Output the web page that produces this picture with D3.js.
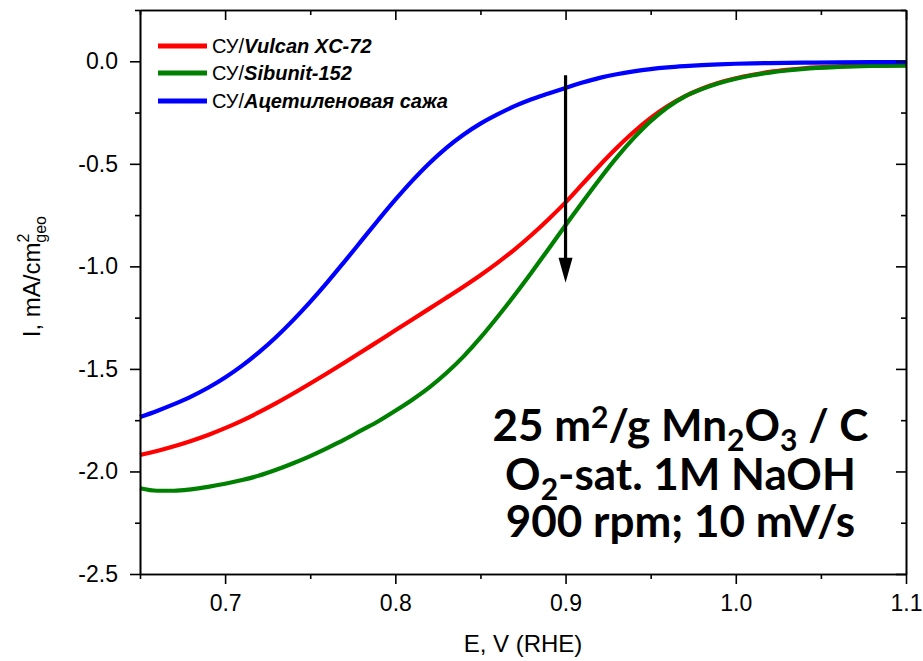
<!DOCTYPE html>
<html>
<head>
<meta charset="utf-8">
<script src="https://cdn.jsdelivr.net/npm/d3@7"></script>
<style>
  body { margin: 0; background: #fff; }
  svg { display: block; }
  .axis text { font-family: "Liberation Sans", Arial, sans-serif; font-size: 23px; fill: #000; }
  .axis path, .axis line { stroke: #000; stroke-width: 1.6px; }
</style>
</head>
<body>
<div id="chart"></div>
<script>
// potential, V vs RHE
const potential = [0.65, 0.66, 0.67, 0.68, 0.69, 0.70, 0.71, 0.72, 0.73, 0.74,
  0.75, 0.76, 0.77, 0.78, 0.79, 0.80, 0.81, 0.82, 0.83, 0.84,
  0.85, 0.86, 0.87, 0.88, 0.89, 0.90, 0.91, 0.92, 0.93, 0.94,
  0.95, 0.96, 0.97, 0.98, 0.99, 1.00, 1.01, 1.02, 1.03, 1.04,
  1.06, 1.08, 1.10];

// current, mA/cm2 geo
const vulcan = [-1.920, -1.900, -1.877, -1.851, -1.822, -1.789, -1.752, -1.711, -1.667, -1.620,
  -1.571, -1.521, -1.470, -1.418, -1.365, -1.312, -1.259, -1.206, -1.153, -1.099,
  -1.043, -0.983, -0.918, -0.847, -0.770, -0.688, -0.598, -0.508, -0.423, -0.345,
  -0.276, -0.218, -0.171, -0.134, -0.105, -0.083, -0.066, -0.052, -0.042, -0.034,
  -0.025, -0.021, -0.019];
const sibunit = [-2.082, -2.094, -2.094, -2.087, -2.075, -2.060, -2.042, -2.020, -1.992, -1.960,
  -1.925, -1.886, -1.845, -1.800, -1.755, -1.704, -1.650, -1.590, -1.520, -1.440,
  -1.348, -1.247, -1.141, -1.030, -0.915, -0.800, -0.686, -0.575, -0.470, -0.375,
  -0.292, -0.224, -0.172, -0.136, -0.107, -0.085, -0.068, -0.055, -0.045, -0.037,
  -0.028, -0.023, -0.021];
const acetylene = [-1.735, -1.705, -1.672, -1.635, -1.592, -1.542, -1.484, -1.418, -1.344, -1.262,
  -1.173, -1.078, -0.978, -0.876, -0.774, -0.675, -0.582, -0.497, -0.422, -0.358,
  -0.304, -0.259, -0.219, -0.185, -0.157, -0.130, -0.104, -0.081, -0.063, -0.049,
  -0.038, -0.030, -0.024, -0.019, -0.015, -0.012, -0.010, -0.009, -0.008, -0.007,
  -0.005, -0.004, -0.004];

const seriesNames = ['Vulcan XC-72', 'Sibunit-152', 'Ацетиленовая сажа'];
const seriesColors = ['#ff0000', '#008000', '#0000ff'];
const seriesValues = [vulcan, sibunit, acetylene];

const xTicks = [0.7, 0.8, 0.9, 1.0, 1.1];
const xMinor = [0.65, 0.75, 0.85, 0.95, 1.05];
const yTicks = [0.0, -0.5, -1.0, -1.5, -2.0, -2.5];
const yMinor = [0.25, -0.25, -0.75, -1.25, -1.75, -2.25];

// arrow: from/to at E = 0.9 V
const arrowX = 0.9;
const arrowFrom = -0.068;
const arrowTo = -1.08;

class Chart {
    constructor(opts) {
        this.element = opts.element;
        this.draw();
    }

    draw() {
        this.width = 923;
        this.height = 661;
        this.margin = {top: 10, right: 17, bottom: 87, left: 140};

        const svg = d3.select(this.element)
            .append('svg')
            .attr('width', this.width)
            .attr('height', this.height);
        this.svg = svg;

        this.innerW = this.width - this.margin.left - this.margin.right;
        this.innerH = this.height - this.margin.top - this.margin.bottom;

        this.plot = svg.append('g')
            .attr('transform', `translate(${this.margin.left},${this.margin.top})`);

        this.createScales();
        this.addLines();
        this.addAxes();
        this.addLegend();
        this.addArrow();
        this.addNote();
    }

    createScales() {
        this.xScale = d3.scaleLinear().domain([0.65, 1.1]).range([0, this.innerW]);
        this.yScale = d3.scaleLinear().domain([-2.5, 0.25]).range([this.innerH, 0]);
    }

    addAxes() {
        const x = this.xScale, y = this.yScale;
        const W = this.innerW, H = this.innerH;

        // bottom
        this.plot.append('g').attr('class', 'axis')
            .attr('transform', `translate(0,${H})`)
            .call(d3.axisBottom(x).tickValues(xTicks).tickFormat(d3.format('.1f'))
                .tickSize(10).tickSizeOuter(0).tickPadding(11));
        this.plot.append('g').attr('class', 'axis')
            .attr('transform', `translate(0,${H})`)
            .call(d3.axisBottom(x).tickValues(xMinor).tickFormat('').tickSize(5).tickSizeOuter(0));
        // top, inward
        this.plot.append('g').attr('class', 'axis')
            .call(d3.axisBottom(x).tickValues(xTicks).tickFormat('').tickSize(10).tickSizeOuter(0));
        this.plot.append('g').attr('class', 'axis')
            .call(d3.axisBottom(x).tickValues(xMinor).tickFormat('').tickSize(5).tickSizeOuter(0));
        // left
        this.plot.append('g').attr('class', 'axis')
            .call(d3.axisLeft(y).tickValues(yTicks).tickFormat(d3.format('.1f'))
                .tickSize(10).tickSizeOuter(0).tickPadding(12));
        this.plot.append('g').attr('class', 'axis')
            .call(d3.axisLeft(y).tickValues(yMinor).tickFormat('').tickSize(5).tickSizeOuter(0));
        // right, inward
        this.plot.append('g').attr('class', 'axis')
            .attr('transform', `translate(${W},0)`)
            .call(d3.axisLeft(y).tickValues(yTicks).tickFormat('').tickSize(10).tickSizeOuter(0));
        this.plot.append('g').attr('class', 'axis')
            .attr('transform', `translate(${W},0)`)
            .call(d3.axisLeft(y).tickValues(yMinor).tickFormat('').tickSize(5).tickSizeOuter(0));

        this.plot.selectAll('.axis text').text(function() {
            return this.textContent.replace('−', '-');
        });

        // x title
        this.svg.append('text')
            .attr('x', this.margin.left + W / 2)
            .attr('y', 652)
            .attr('text-anchor', 'middle')
            .style('font-family', '"Liberation Sans", Arial, sans-serif')
            .style('font-size', '24px')
            .text('E, V (RHE)');

        // y title
        const yt = this.svg.append('text')
            .attr('transform', `translate(40,${this.margin.top + y(-1.05)}) rotate(-90)`)
            .attr('text-anchor', 'middle')
            .style('font-family', '"Liberation Sans", Arial, sans-serif')
            .style('font-size', '24px');
        yt.append('tspan').text('I, mA/cm');
        yt.append('tspan').attr('dy', -11).style('font-size', '16px').text('2');
        yt.append('tspan').attr('dx', -9).attr('dy', 17).style('font-size', '16px').text('geo');
    }

    addLines() {
        const line = d3.line()
            .x(d => this.xScale(d[0]))
            .y(d => this.yScale(d[1]))
            .curve(d3.curveMonotoneX);

        seriesValues.forEach((vals, i) => {
            this.plot.append('path')
                .datum(potential.map((v, j) => [v, vals[j]]))
                .attr('d', line)
                .attr('fill', 'none')
                .attr('stroke', seriesColors[i])
                .attr('stroke-width', 4.2)
                .attr('stroke-linejoin', 'round');
        });
    }

    addLegend() {
        const rows = [36, 63, 91];
        const g = this.plot.append('g');
        seriesNames.forEach((name, i) => {
            g.append('line')
                .attr('x1', 18).attr('x2', 67)
                .attr('y1', rows[i]).attr('y2', rows[i])
                .attr('stroke', seriesColors[i])
                .attr('stroke-width', 5);
            const t = g.append('text')
                .attr('x', 72).attr('y', rows[i] + 7)
                .style('font-family', '"Liberation Sans", Arial, sans-serif')
                .style('font-size', '20px');
            t.append('tspan').text('СУ/');
            t.append('tspan').style('font-weight', 'bold').style('font-style', 'italic').text(name);
        });
    }

    addArrow() {
        const x = this.xScale(arrowX);
        const y1 = this.yScale(arrowFrom), y2 = this.yScale(arrowTo);
        this.plot.append('line')
            .attr('x1', x).attr('x2', x)
            .attr('y1', y1).attr('y2', y2 - 20)
            .attr('stroke', '#000').attr('stroke-width', 3.2);
        this.plot.append('path')
            .attr('d', `M${x - 7},${y2 - 25} L${x + 7},${y2 - 25} L${x},${y2} Z`)
            .attr('fill', '#000');
    }

    addNote() {
        const cx = this.xScale(0.9675);
        const lines = [
            [['25 m', 0], ['2', 'sup'], ['/g Mn', 0], ['2', 'sub'], ['O', 0], ['3', 'sub'], [' / C', 0]],
            [['O', 0], ['2', 'sub'], ['-sat. 1M NaOH', 0]],
            [['900 rpm; 10 mV/s', 0]]
        ];
        const base = [this.yScale(-1.85), this.yScale(-2.09), this.yScale(-2.32)];
        lines.forEach((parts, i) => {
            const t = this.plot.append('text')
                .attr('x', cx).attr('y', base[i])
                .attr('text-anchor', 'middle')
                .style('font-family', 'Lato, "DejaVu Sans", sans-serif')
                .style('font-weight', 'bold')
                .style('font-size', '44px');
            parts.forEach(p => {
                const s = t.append('tspan').text(p[0]);
                if (p[1] === 'sup') s.style('font-size', '30px').attr('baseline-shift', '13');
                if (p[1] === 'sub') s.style('font-size', '30px').attr('baseline-shift', '-10');
            });
        });
    }
}

new Chart({element: document.getElementById('chart')});
</script>
</body>
</html>
